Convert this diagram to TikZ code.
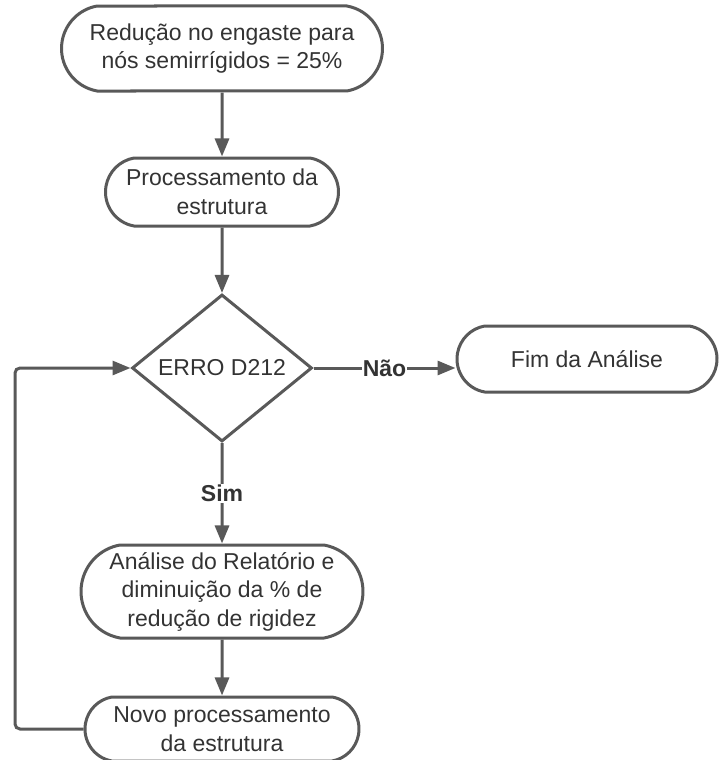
\documentclass[tikz,border=0pt]{standalone}
\usepackage{fontspec}
\setmainfont{Liberation Sans}
\usepackage{tikz}
\usetikzlibrary{shapes.misc}
\usetikzlibrary{shapes.geometric}
\usetikzlibrary{arrows.meta}
\definecolor{linegray}{HTML}{595959}
\definecolor{textgray}{HTML}{333333}

\begin{document}
\begin{tikzpicture}[x=1pt, y=-1pt,
    every node/.style={text=textgray, font=\fontsize{23}{28.5}\selectfont, align=center},
    term/.style={rounded rectangle, rounded rectangle arc length=160, draw=linegray, line width=3pt, inner sep=0pt},
    decision/.style={diamond, draw=linegray, line width=3pt, inner sep=0pt, minimum width=180pt, minimum height=147pt},
    flow/.style={draw=linegray, line width=3pt, -{Triangle[length=18pt, width=14pt]}},
    answer/.style={fill=white, inner sep=1pt, font=\fontsize{23}{28.5}\selectfont\bfseries}]
        \useasboundingbox (0, 0) rectangle (718, 760);
        \node[term, minimum width=321pt, minimum height=85pt] (reducao) at (222, 48.5) {Redução no engaste para\\nós semirrígidos = 25\%};
        \node[term, minimum width=233pt, minimum height=68pt] (proc) at (222, 192) {Processamento da\\estrutura};
        \node[decision] (erro) at (222, 368) {ERRO D212};
        \node[term, minimum width=260pt, minimum height=66pt] (fim) at (587, 359) {Fim da Análise};
        \node[term, minimum width=282pt, minimum height=93pt] (analise) at (222, 591.5) {Análise do Relatório e\\diminuição da \% de\\redução de rigidez};
        \node[term, minimum width=274pt, minimum height=64pt] (novo) at (222, 729) {Novo processamento\\da estrutura};
        \coordinate (volta) at (15, 729);

        \draw[flow] (reducao) -- (proc);
        \draw[flow] (proc) -- (erro);
        \draw[flow] (erro.east) -- (erro.east -| fim.west) node[answer, pos=0.5] {Não};
        \draw[flow] (erro) -- (analise) node[answer, pos=0.5] {Sim};
        \draw[flow] (analise) -- (novo);
        \draw[flow, rounded corners=5pt] (novo.west) -- (volta) |- (erro.west);
     \end{tikzpicture}
\end{document}
